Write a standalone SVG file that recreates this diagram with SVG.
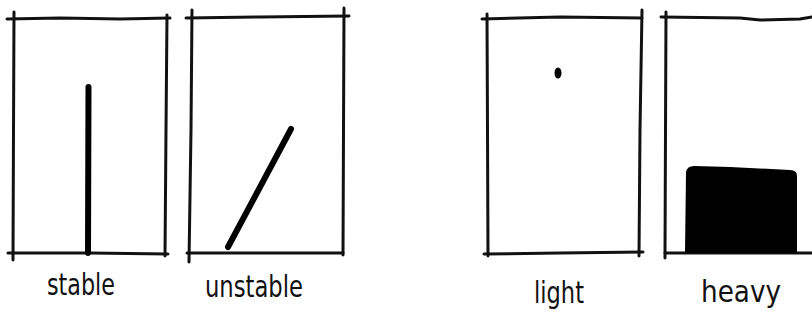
<svg xmlns="http://www.w3.org/2000/svg" width="812" height="320" viewBox="0 0 812 320">
<style>
.frame{fill:none;stroke:#111;stroke-width:3;stroke-linecap:round;stroke-linejoin:round}
.bar{fill:none;stroke:#000;stroke-width:6;stroke-linecap:round}
.lbl{font-family:"DejaVu Sans","Liberation Sans",sans-serif;font-size:30px;fill:#111}
</style>
<rect width="812" height="320" fill="#fff"/>
<g id="stable">
<path class="frame" d="M7 19 L60 18 L120 19 L170 18"/>
<path class="frame" d="M14 12 L13.5 130 L13 260"/>
<path class="frame" d="M167 15 L166 130 L165 256"/>
<path class="frame" d="M8 253 L90 253 L168 254"/>
<path class="bar" d="M88.5 87 L88 253"/>
<text class="lbl" x="47" y="295" textLength="68" lengthAdjust="spacingAndGlyphs">stable</text>
</g>
<g id="unstable">
<path class="frame" d="M186 18 L260 17 L349 16"/>
<path class="frame" d="M192 10 L191 130 L189 262"/>
<path class="frame" d="M344 8 L343.5 130 L343 255"/>
<path class="frame" d="M187 253 L260 253 L343 253"/>
<path class="bar" d="M228 247 L291 129"/>
<text class="lbl" x="205" y="297" textLength="98" lengthAdjust="spacingAndGlyphs">unstable</text>
</g>
<g id="light">
<path class="frame" d="M482 19 L560 17 L642 18"/>
<path class="frame" d="M487 14 L487.5 130 L488 256"/>
<path class="frame" d="M642 10 L640 130 L639 256"/>
<path class="frame" d="M484 254 L560 253 L643 252"/>
<ellipse cx="558" cy="73" rx="3.5" ry="5.5" fill="#000"/>
<text class="lbl" x="534" y="303" textLength="50" lengthAdjust="spacingAndGlyphs">light</text>
</g>
<g id="heavy">
<path class="frame" d="M661 17 L740 18 L760 20 L800 19 L812 17"/>
<path class="frame" d="M666 12 L665.5 130 L665 258"/>
<path class="frame" d="M665 253 L740 253 L812 253"/>
<path d="M685 253 L686 172 Q687 166 694 166 L730 167 L790 170 Q797 170 797 176 L797 253 Z" fill="#000"/>
<text class="lbl" x="701" y="302" textLength="80" lengthAdjust="spacingAndGlyphs">heavy</text>
</g>
<g id="connectors"/>
</svg>
